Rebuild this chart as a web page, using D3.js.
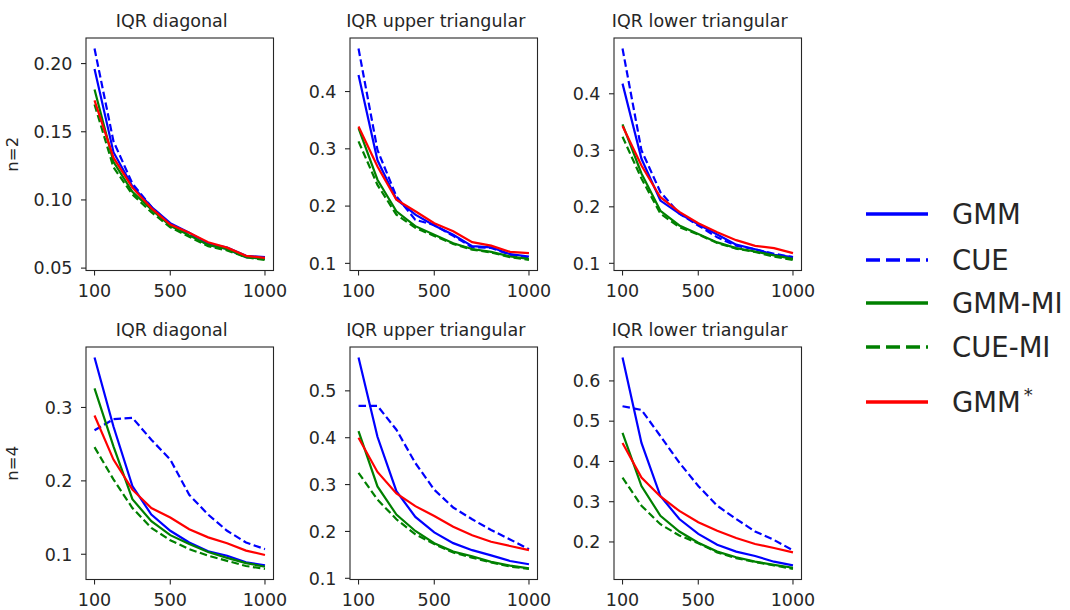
<!DOCTYPE html>
<meta charset="utf-8">
<style>
  body { margin: 0; background: #fff; }
  text { font-family: "DejaVu Sans", sans-serif; fill: #262626; }
  .frame { fill: none; stroke: #262626; stroke-width: 1.1; }
  .tick line { stroke: #262626; stroke-width: 1.1; }
</style>
<body>
<div id="chart"></div>
<script src="https://d3js.org/d3.v7.min.js"></script>
<script>

// sample sizes on the x axis
const sampleSizes = [100, 200, 300, 400, 500, 600, 700, 800, 900, 1000];
const methods = ["GMM", "CUE", "GMM-MI", "CUE-MI", "GMM*"];
const rowLabels = ["n=2", "n=4"];
const panelTitles = ["IQR diagonal", "IQR upper triangular", "IQR lower triangular"];
const xTicks = [100, 500, 1000];

// each panel: one row per method, in the order of `methods`
const n2Diagonal = [
  [0.196, 0.135, 0.110, 0.095, 0.083, 0.076, 0.068, 0.065, 0.059, 0.058],
  [0.211, 0.143, 0.112, 0.095, 0.082, 0.075, 0.067, 0.064, 0.058, 0.057],
  [0.181, 0.128, 0.106, 0.093, 0.081, 0.074, 0.067, 0.064, 0.058, 0.057],
  [0.170, 0.124, 0.104, 0.091, 0.080, 0.073, 0.066, 0.063, 0.058, 0.056],
  [0.173, 0.131, 0.109, 0.094, 0.082, 0.076, 0.069, 0.065, 0.059, 0.0575]
];
const n2Upper = [
  [0.429, 0.280, 0.212, 0.185, 0.166, 0.150, 0.130, 0.128, 0.116, 0.112],
  [0.475, 0.298, 0.217, 0.176, 0.167, 0.148, 0.128, 0.127, 0.115, 0.109],
  [0.336, 0.246, 0.191, 0.165, 0.150, 0.135, 0.125, 0.120, 0.112, 0.108],
  [0.313, 0.237, 0.185, 0.162, 0.148, 0.134, 0.124, 0.119, 0.111, 0.106],
  [0.339, 0.269, 0.211, 0.191, 0.170, 0.156, 0.137, 0.131, 0.120, 0.118]
];
const n2Lower = [
  [0.418, 0.285, 0.211, 0.188, 0.169, 0.151, 0.133, 0.125, 0.115, 0.111],
  [0.480, 0.300, 0.226, 0.188, 0.167, 0.146, 0.131, 0.125, 0.117, 0.111],
  [0.346, 0.259, 0.193, 0.167, 0.152, 0.137, 0.127, 0.121, 0.114, 0.108],
  [0.324, 0.250, 0.188, 0.164, 0.151, 0.136, 0.126, 0.120, 0.112, 0.106],
  [0.343, 0.273, 0.217, 0.191, 0.171, 0.155, 0.141, 0.131, 0.127, 0.118]
];
const n4Diagonal = [
  [0.368, 0.274, 0.193, 0.154, 0.132, 0.116, 0.104, 0.098, 0.089, 0.085],
  [0.269, 0.284, 0.286, 0.256, 0.229, 0.181, 0.154, 0.132, 0.116, 0.107],
  [0.326, 0.247, 0.175, 0.145, 0.126, 0.114, 0.103, 0.095, 0.088, 0.083],
  [0.246, 0.202, 0.163, 0.136, 0.119, 0.107, 0.098, 0.091, 0.084, 0.080],
  [0.289, 0.229, 0.188, 0.163, 0.150, 0.134, 0.123, 0.115, 0.105, 0.099]
];
const n4Upper = [
  [0.571, 0.402, 0.286, 0.231, 0.198, 0.175, 0.160, 0.149, 0.137, 0.130],
  [0.468, 0.468, 0.417, 0.346, 0.289, 0.251, 0.226, 0.203, 0.183, 0.162],
  [0.414, 0.296, 0.236, 0.201, 0.175, 0.157, 0.147, 0.135, 0.127, 0.121],
  [0.325, 0.268, 0.226, 0.194, 0.173, 0.155, 0.144, 0.134, 0.125, 0.120],
  [0.400, 0.327, 0.281, 0.254, 0.233, 0.210, 0.192, 0.178, 0.169, 0.160]
];
const n4Lower = [
  [0.658, 0.446, 0.314, 0.257, 0.220, 0.193, 0.176, 0.165, 0.151, 0.142],
  [0.537, 0.528, 0.463, 0.397, 0.339, 0.290, 0.257, 0.226, 0.205, 0.179],
  [0.471, 0.339, 0.265, 0.226, 0.198, 0.176, 0.162, 0.151, 0.143, 0.136],
  [0.360, 0.290, 0.244, 0.216, 0.197, 0.174, 0.160, 0.150, 0.142, 0.133],
  [0.446, 0.360, 0.313, 0.277, 0.249, 0.228, 0.210, 0.195, 0.185, 0.174]
];

// y tick labels per panel
const yTicksN2Diagonal = [0.05, 0.10, 0.15, 0.20];
const yTicksN2Upper = [0.1, 0.2, 0.3, 0.4];
const yTicksN2Lower = [0.1, 0.2, 0.3, 0.4];
const yTicksN4Diagonal = [0.1, 0.2, 0.3];
const yTicksN4Upper = [0.1, 0.2, 0.3, 0.4, 0.5];
const yTicksN4Lower = [0.2, 0.3, 0.4, 0.5, 0.6];

const panels = [
  { row: 0, col: 0, data: n2Diagonal, ticks: yTicksN2Diagonal, fmt: ".2f" },
  { row: 0, col: 1, data: n2Upper, ticks: yTicksN2Upper, fmt: ".1f" },
  { row: 0, col: 2, data: n2Lower, ticks: yTicksN2Lower, fmt: ".1f" },
  { row: 1, col: 0, data: n4Diagonal, ticks: yTicksN4Diagonal, fmt: ".1f" },
  { row: 1, col: 1, data: n4Upper, ticks: yTicksN4Upper, fmt: ".1f" },
  { row: 1, col: 2, data: n4Lower, ticks: yTicksN4Lower, fmt: ".1f" }
];

const colors = ["#0000ff", "#0000ff", "#008000", "#008000", "#ff0000"];
const dashed = [false, true, false, true, false];

const width = 1070, height = 610;
const colLeft = [86, 350, 614], panelW = 187.5;
const rowTop = [38, 347], panelH = 232.5;

let svg = d3.select("#chart").append("svg")
            .attr("width", width)
            .attr("height", height);

panels.forEach(p => {
    let x0 = colLeft[p.col], y0 = rowTop[p.row];
    let g = svg.append("g").attr("transform", `translate(${x0},${y0})`);

    // matplotlib-style 5% margins
    let xPad = (1000 - 100) * 0.05;
    let x = d3.scaleLinear().domain([100 - xPad, 1000 + xPad]).range([0, panelW]);
    let ext = d3.extent(p.data.flat());
    let yPad = (ext[1] - ext[0]) * 0.05;
    let y = d3.scaleLinear().domain([ext[0] - yPad, ext[1] + yPad]).range([panelH, 0]);

    let line = d3.line()
                 .x((d, i) => x(sampleSizes[i]))
                 .y(d => y(d));

    g.selectAll("path.series")
     .data(p.data)
     .enter().append("path")
      .attr("class", "series")
      .attr("d", line)
      .style("fill", "none")
      .style("stroke", (d, i) => colors[i])
      .style("stroke-width", 2.2)
      .style("stroke-dasharray", (d, i) => dashed[i] ? "7.5,3.5" : null);

    g.append("rect")
     .attr("class", "frame")
     .attr("width", panelW)
     .attr("height", panelH);

    // x axis
    let xAxis = g.append("g").attr("transform", `translate(0,${panelH})`);
    let xt = xAxis.selectAll("g").data(xTicks).enter().append("g")
                  .attr("class", "tick")
                  .attr("transform", d => `translate(${x(d)},0)`);
    xt.append("line").attr("y2", 5);
    xt.append("text")
      .attr("y", 26.5)
      .attr("text-anchor", "middle")
      .style("font-size", "17.5px")
      .text(d => d);

    // y axis
    let fmt = d3.format(p.fmt);
    let yt = g.append("g").selectAll("g").data(p.ticks).enter().append("g")
              .attr("class", "tick")
              .attr("transform", d => `translate(0,${y(d)})`);
    yt.append("line").attr("x2", -5);
    yt.append("text")
      .attr("x", -13.5)
      .attr("dy", "0.36em")
      .attr("text-anchor", "end")
      .style("font-size", "17.5px")
      .text(d => fmt(d));

    // panel title
    g.append("text")
     .attr("x", panelW / 2 - 8)
     .attr("y", -11)
     .attr("text-anchor", "middle")
     .style("font-size", "17.5px")
     .text(panelTitles[p.col]);

    if (p.col === 0) {
        g.append("text")
         .attr("transform", `translate(${-68},${panelH / 2}) rotate(-90)`)
         .attr("text-anchor", "middle")
         .style("font-size", "16.5px")
         .text(rowLabels[p.row]);
    }
});

// legend
const legendY = [214, 260, 303, 347, 402];
let legend = svg.append("g").selectAll("g")
                .data(methods)
                .enter().append("g")
                .attr("transform", (d, i) => `translate(866,${legendY[i]})`);

legend.append("line")
      .attr("x2", 62)
      .style("stroke", (d, i) => colors[i])
      .style("stroke-width", 3.3)
      .style("stroke-dasharray", (d, i) => dashed[i] ? "14,6" : null);

legend.append("text")
      .attr("x", 86)
      .attr("dy", "0.36em")
      .style("font-size", "27.5px")
      .each(function(d) {
          let t = d3.select(this);
          if (d.endsWith("*")) {
              t.text(d.slice(0, -1));
              t.append("tspan")
               .attr("dx", 3)
               .attr("dy", "-0.6em")
               .style("font-size", "18px")
               .text("*");
          } else {
              t.text(d);
          }
      });

</script>
</body>
</html>
